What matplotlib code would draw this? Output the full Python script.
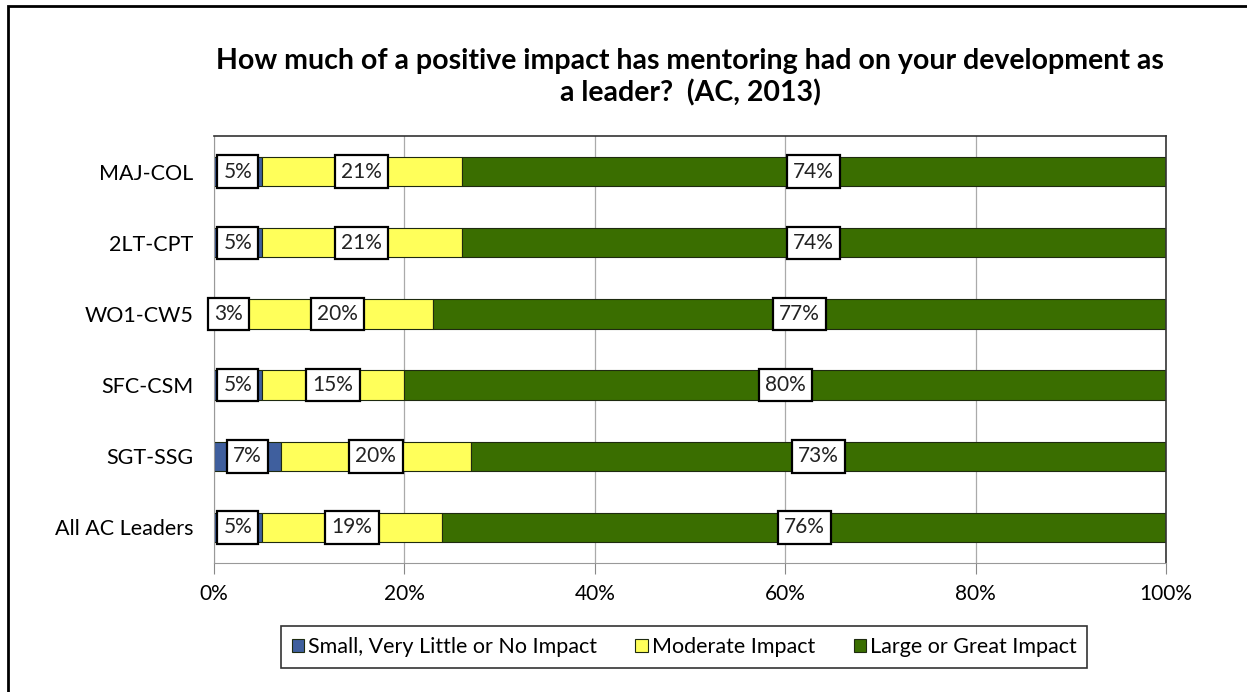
import matplotlib.pyplot as plt
import numpy as np
from matplotlib.patches import Rectangle

groups = ['MAJ-COL', '2LT-CPT', 'WO1-CW5', 'SFC-CSM', 'SGT-SSG', 'All AC Leaders']
small = [5, 5, 3, 5, 7, 5]
moderate = [21, 21, 20, 15, 20, 19]
large = [74, 74, 77, 80, 73, 76]
series_names = ['Small, Very Little or No Impact', 'Moderate Impact', 'Large or Great Impact']
colors = ['#3f5f9e', '#ffff5a', '#3a6e00']
xticks = [0, 20, 40, 60, 80, 100]

plt.rcParams['font.family'] = ['Lato', 'DejaVu Sans']

fig = plt.figure(figsize=(12.47, 6.92), dpi=100)
ax = fig.add_axes([214/1247, 1-563/692, (1166-214)/1247, (563-136)/692])

# outer chart frame (left and top edges show)
fig.patches.append(Rectangle((8/1247, -0.1), 1.2, 1-6/692+0.1, transform=fig.transFigure,
                             fill=False, edgecolor='black', linewidth=2))

y = np.arange(len(groups))[::-1]
h = 0.41
left = np.zeros(len(groups))
for vals, name, c in zip([small, moderate, large], series_names, colors):
    vals = np.array(vals, dtype=float)
    ax.barh(y, vals, left=left, height=h, color=c, edgecolor='#1e2a10',
            linewidth=0.8, label=name, zorder=2)
    for yi, l, v in zip(y, left, vals):
        ax.text(l + v / 2, yi, f'{int(v)}%', ha='center', va='center', fontsize=15,
                color='#222222', zorder=4,
                bbox=dict(boxstyle='square,pad=0.3', facecolor='white',
                          edgecolor='black', linewidth=1.6))
    left += vals

ax.set_xlim(0, 100)
ax.set_ylim(y.min() - 0.5, y.max() + 0.5)
ax.set_yticks(y)
ax.set_yticklabels(groups, fontsize=15.5)
ax.set_xticks(xticks)
ax.set_xticklabels([f'{t}%' for t in xticks], fontsize=15)
ax.tick_params(axis='y', length=0, pad=15)
ax.tick_params(axis='x', length=8, color='#888888', pad=7)
ax.xaxis.grid(True, color='#aaaaaa', linewidth=0.9, zorder=0)
ax.set_axisbelow(True)
for s in ['top', 'right']:
    ax.spines[s].set_color('#333333')
    ax.spines[s].set_linewidth(1.2)
for s in ['left', 'bottom']:
    ax.spines[s].set_color('#999999')

fig.text(690/1247, 1-77/692,
         'How much of a positive impact has mentoring had on your development as\na leader?  (AC, 2013)',
         ha='center', va='center', fontsize=20.5, fontweight='bold', linespacing=1.25)

leg = fig.legend(loc='center', bbox_to_anchor=(684/1247, 1-647/692), ncol=3,
                 fontsize=15.5, frameon=True, fancybox=False, edgecolor='black',
                 handlelength=0.6, handleheight=0.6, handletextpad=0.15,
                 columnspacing=1.8, borderpad=0.5)
leg.get_frame().set_linewidth(1.2)

fig.savefig('out.png', dpi=100)
